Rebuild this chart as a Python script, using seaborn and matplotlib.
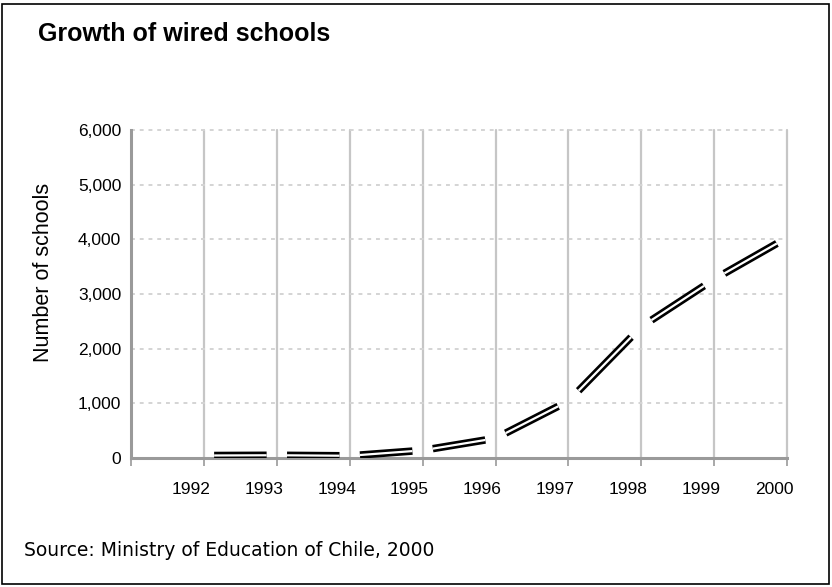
import matplotlib
matplotlib.use("Agg")
import matplotlib.pyplot as plt
import matplotlib.transforms as mtransforms
from matplotlib import font_manager
from matplotlib.patches import Rectangle
import seaborn as sns
import pandas as pd

# values
years = [1992, 1993, 1994, 1995, 1996, 1997, 1998, 1999, 2000]
schools = [45, 50, 40, 140, 360, 1040, 2400, 3270, 4030]
y_ticks = [0, 1000, 2000, 3000, 4000, 5000, 6000]
title = "Growth of wired schools"
y_label = "Number of schools"
source = "Source: Ministry of Education of Chile, 2000"

sns.set_theme(style="white")
plt.rcParams["font.family"] = ["Liberation Sans", "DejaVu Sans"]
plt.rcParams["text.color"] = "black"

# tick labels in the original use a condensed face; fall back if it is missing
try:
    font_manager.findfont("Liberation Sans Narrow", fallback_to_default=False)
    tick_font, tick_size = ["Liberation Sans Narrow", "DejaVu Sans"], 13.5
except ValueError:
    tick_font, tick_size = ["Liberation Sans", "DejaVu Sans"], 12.5

# the original draws each year-to-year step as a separate piece with a small gap
gap = 0.14
rows = []
for i in range(len(years) - 1):
    x0, x1 = years[i], years[i + 1]
    v0, v1 = schools[i], schools[i + 1]
    slope = (v1 - v0) / (x1 - x0)
    rows.append({"seg": i, "year": x0 + gap, "schools": v0 + slope * gap})
    rows.append({"seg": i, "year": x1 - gap, "schools": v1 - slope * gap})
df = pd.DataFrame(rows)

fig = plt.figure(figsize=(8.32, 5.87), dpi=100)
ax = fig.add_axes([0.1575, 0.2198, 0.7885, 0.5588])

# double line: black stroke with a thin white core
sns.lineplot(data=df, x="year", y="schools", units="seg", estimator=None,
             color="black", lw=5.4, solid_capstyle="butt", ax=ax, zorder=4)
sns.lineplot(data=df, x="year", y="schools", units="seg", estimator=None,
             color="white", lw=1.6, solid_capstyle="butt", ax=ax, zorder=5)

ax.set_xlim(1991, 2000)
ax.set_ylim(0, 6000)

ax.set_xticks([1991] + years)
ax.set_xticklabels([""] + [str(y) for y in years])
ax.set_yticks(y_ticks)
ax.set_yticklabels([f"{v:,}" for v in y_ticks])

ax.tick_params(axis="x", length=6, width=1.2, color="#9a9a9a", pad=11, bottom=True)
ax.tick_params(axis="y", length=0, pad=7)

for lab in ax.get_xticklabels() + ax.get_yticklabels():
    lab.set_family(tick_font)
    lab.set_fontsize(tick_size)
    lab.set_color("black")

# x labels sit a little left of their grid line (after tick_params, which resets transforms)
shift = mtransforms.ScaledTranslation(-13 / 100, 0, fig.dpi_scale_trans)
for lab in ax.get_xticklabels():
    lab.set_transform(lab.get_transform() + shift)

# grid: solid verticals at each year, dotted horizontals
for y in years:
    ax.axvline(y, color="#c6c6c6", lw=1.6, zorder=1, clip_on=False)
for v in y_ticks[1:]:
    ax.axhline(v, color="#d4d4d4", lw=1.4, ls=(0, (2, 2.5)), zorder=1, clip_on=False)

for side in ["top", "right"]:
    ax.spines[side].set_visible(False)
for side in ["left", "bottom"]:
    ax.spines[side].set_color("#9a9a9a")
    ax.spines[side].set_linewidth(2.2)
    ax.spines[side].set_zorder(3)

ax.set_xlabel("")
ax.set_ylabel(y_label, fontsize=15.5, color="black")
ax.yaxis.set_label_coords(-0.118, 0.567)

fig.text(38 / 832, 1 - 34 / 587, title, fontsize=18, fontweight="bold",
         ha="left", va="center", color="black")
fig.text(24 / 832, 1 - 551 / 587, source, fontsize=13.5, ha="left", va="center",
         family=["DejaVu Sans"], color="black")

# outer frame of the figure
fig.add_artist(Rectangle((2 / 832, 3 / 587), 827 / 832, 580 / 587,
                         transform=fig.transFigure, fill=False,
                         edgecolor="black", lw=1.2))

fig.savefig("out.png", dpi=100)
